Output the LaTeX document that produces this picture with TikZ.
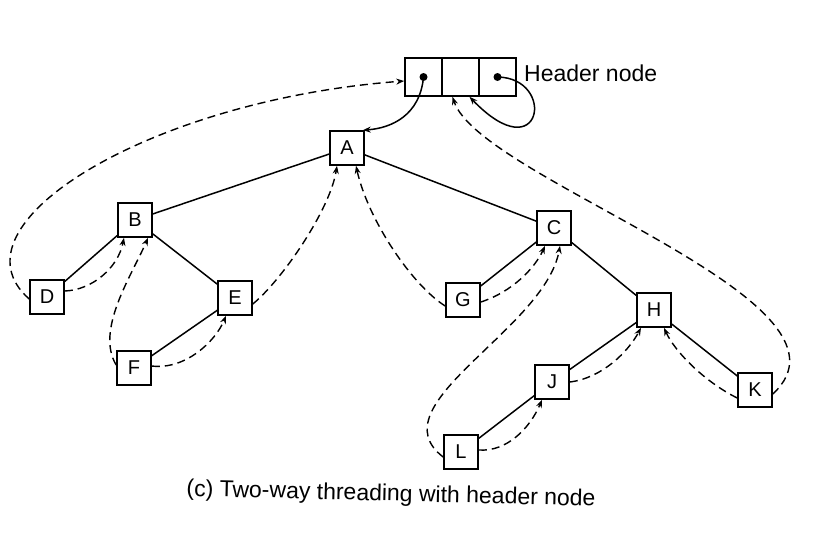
\documentclass[tikz,border=0pt]{standalone}
\usepackage{fontspec}
\setmainfont{Liberation Sans}
\usetikzlibrary{arrows.meta}
\begin{document}
\begin{tikzpicture}[x=1pt,y=-1pt,
  tnode/.style={draw,line width=1.6pt,minimum size=34pt,inner sep=0pt,font=\fontsize{20}{22}\selectfont},
  cell/.style={draw,line width=1.6pt,minimum width=37pt,minimum height=38pt,inner sep=0pt},
  edge/.style={line width=1.5pt},
  thread/.style={line width=1.4pt,dash pattern=on 8pt off 5pt,-{Stealth[length=8pt,width=6pt]}},
  ptr/.style={line width=1.5pt,-{Stealth[length=8pt,width=6pt]}}]
\useasboundingbox (0,0) rectangle (826,546);
% header node
\node[cell] (h1) at (423.5,77) {};
\node[cell] (h2) at (460.5,77) {};
\node[cell] (h3) at (497.5,77) {};
\node[anchor=west,font=\fontsize{23}{25}\selectfont,inner sep=0pt] (hl) at (524,73) {Header node};
\coordinate (d1) at (h1.center);
\coordinate (d3) at (h3.center);
\fill (d1) circle (4pt);
\fill (d3) circle (4pt);
% tree nodes
\node[tnode] (A) at (347,148) {A};
\node[tnode] (B) at (135,220) {B};
\node[tnode] (C) at (554,228) {C};
\node[tnode] (D) at (47,297) {D};
\node[tnode] (E) at (235,298) {E};
\node[tnode] (F) at (134,368) {F};
\node[tnode] (G) at (463,300) {G};
\node[tnode] (H) at (654,310) {H};
\node[tnode] (J) at (552,382) {J};
\node[tnode] (K) at (755,390) {K};
\node[tnode] (L) at (461,452) {L};
% solid edges
\draw[edge] (A) -- (B);
\draw[edge] (A) -- (C);
\draw[edge] (B) -- (D);
\draw[edge] (B) -- (E);
\draw[edge] (E) -- (F);
\draw[edge] (C) -- (G);
\draw[edge] (C) -- (H);
\draw[edge] (H) -- (J);
\draw[edge] (H) -- (K);
\draw[edge] (J) -- (L);
% header pointers
\draw[ptr] (d1) .. controls (420,115) and (392,128) .. ([xshift=-2pt]A.north east);
\draw[ptr] (d3) .. controls (557,78) and (542,172) .. ([xshift=9pt]h2.south);
% threads
\draw[thread] ([yshift=-2pt]D.west) .. controls (-55,225) and (150,100) .. ([yshift=-4pt]h1.west);
\draw[thread] ([yshift=6pt]D.east) .. controls (92,290) and (118,268) .. ([xshift=-11pt]B.south);
\draw[thread] ([yshift=3pt]F.west) .. controls (95,330) and (132,275) .. ([xshift=13pt]B.south);
\draw[thread] ([yshift=2pt]F.east) .. controls (185,370) and (215,342) .. ([xshift=-9pt]E.south);
\draw[thread] ([yshift=-6pt]E.east) .. controls (282,280) and (330,210) .. ([xshift=-10pt]A.south);
\draw[thread] ([yshift=-6pt]G.west) .. controls (412,285) and (368,220) .. ([xshift=9pt]A.south);
\draw[thread] ([yshift=-2pt]G.east) .. controls (512,292) and (535,268) .. ([xshift=-9pt]C.south);
\draw[thread] ([yshift=-5pt]L.west) .. controls (375,405) and (545,330) .. ([xshift=6pt]C.south);
\draw[thread] ([yshift=2pt]L.east) .. controls (507,452) and (530,428) .. ([xshift=-10pt]J.south);
\draw[thread] (J.east) .. controls (602,378) and (628,352) .. ([xshift=-13pt]H.south);
\draw[thread] ([yshift=-8pt]K.west) .. controls (705,382) and (675,352) .. ([xshift=10pt]H.south);
\draw[thread] ([yshift=-4pt]K.east) .. controls (875,300) and (480,180) .. ([xshift=-8pt]h2.south);
% caption
\node[font=\fontsize{23}{25}\selectfont,rotate=-1.4,inner sep=0pt] (cap) at (391,495) {(c) Two-way threading with header node};
\end{tikzpicture}
\end{document}
